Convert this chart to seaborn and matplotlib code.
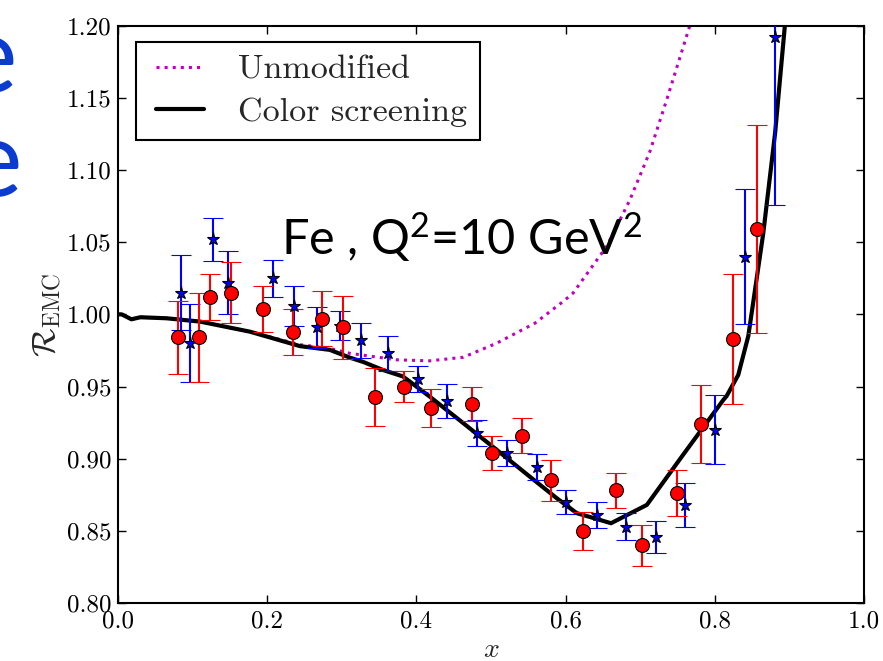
"""EMC ratio for Fe at Q^2 = 10 GeV^2: data vs. unmodified and color-screening curves."""

import matplotlib

matplotlib.use("Agg")
import matplotlib.pyplot as plt
import pandas as pd
import seaborn as sns
from matplotlib.legend_handler import HandlerLine2D
from matplotlib.lines import Line2D
from matplotlib.ticker import FormatStrFormatter, MultipleLocator

# data set 1 (red circles)
x_red = [0.080, 0.109, 0.124, 0.152, 0.195, 0.235, 0.274, 0.302, 0.345, 0.384, 0.420,
         0.474, 0.501, 0.542, 0.580, 0.624, 0.667, 0.703, 0.750, 0.781, 0.824, 0.856]
y_red = [0.984, 0.984, 1.012, 1.015, 1.004, 0.988, 0.997, 0.991, 0.943, 0.950, 0.935,
         0.938, 0.904, 0.916, 0.885, 0.850, 0.878, 0.840, 0.876, 0.924, 0.983, 1.059]
err_red = [0.025, 0.031, 0.016, 0.021, 0.016, 0.016, 0.019, 0.022, 0.020, 0.011, 0.013,
           0.012, 0.012, 0.012, 0.014, 0.013, 0.012, 0.014, 0.016, 0.027, 0.045, 0.072]

# data set 2 (blue stars)
x_blue = [0.085, 0.096, 0.127, 0.147, 0.2075, 0.236, 0.267, 0.297, 0.326, 0.3615, 0.402, 0.441,
          0.481, 0.521, 0.562, 0.601, 0.6415, 0.681, 0.721, 0.7605, 0.801, 0.841, 0.881]
y_blue = [1.015, 0.980, 1.052, 1.022, 1.025, 1.006, 0.991, 0.992, 0.982, 0.973, 0.955, 0.940,
          0.918, 0.904, 0.894, 0.870, 0.861, 0.853, 0.846, 0.868, 0.920, 1.040, 1.192]
err_blue = [0.026, 0.027, 0.015, 0.022, 0.013, 0.014, 0.014, 0.010, 0.012, 0.012, 0.009, 0.012,
            0.009, 0.009, 0.009, 0.008, 0.009, 0.0095, 0.011, 0.015, 0.024, 0.047, 0.116]

# color screening curve
x_cs = [0.0, 0.005, 0.018, 0.03, 0.065, 0.11, 0.177, 0.244, 0.284, 0.311, 0.329, 0.355,
        0.382, 0.418, 0.463, 0.508, 0.552, 0.588, 0.615, 0.661, 0.709, 0.758, 0.8115,
        0.816, 0.8315, 0.845, 0.856, 0.865, 0.881, 0.894, 0.905]
y_cs = [1.000, 1.000, 0.9966, 0.998, 0.9973, 0.995, 0.988, 0.978, 0.9754, 0.970, 0.967, 0.9615,
        0.957, 0.943, 0.9246, 0.906, 0.8876, 0.8727, 0.8623, 0.8553, 0.868, 0.903, 0.9407,
        0.9435, 0.958, 0.985, 1.024, 1.056, 1.126, 1.200, 1.26]

# unmodified curve
x_un = [0.0, 0.005, 0.018, 0.03, 0.065, 0.11, 0.177, 0.244, 0.284, 0.311, 0.3736, 0.418,
        0.463, 0.5076, 0.559, 0.597, 0.610, 0.655, 0.686, 0.713, 0.7355, 0.7645, 0.775]
y_un = [1.000, 1.000, 0.9966, 0.998, 0.9973, 0.995, 0.988, 0.979, 0.9765, 0.973, 0.9685, 0.9678,
        0.9703, 0.980, 0.9939, 1.009, 1.0147, 1.047, 1.079, 1.1127, 1.1485, 1.1965, 1.215]

sns.set_style("ticks")
plt.rcParams["font.family"] = ["cmr10", "DejaVu Sans"]
plt.rcParams["mathtext.fontset"] = "cm"
plt.rcParams["axes.formatter.use_mathtext"] = True
plt.rcParams["mathtext.rm"] = "Lato"
plt.rcParams["mathtext.it"] = "Lato:italic"
plt.rcParams["mathtext.bf"] = "Lato:bold"

fig = plt.figure(figsize=(8.83, 6.61), dpi=100)
ax = fig.add_axes([0.1336, 0.0877, 0.8448, 0.8734])

un = pd.DataFrame({"x": x_un, "y": y_un})
cs = pd.DataFrame({"x": x_cs, "y": y_cs})
sns.lineplot(data=un, x="x", y="y", ax=ax, color="m", linestyle=":", linewidth=2.2,
             estimator=None, label="Unmodified")
sns.lineplot(data=cs, x="x", y="y", ax=ax, color="k", linewidth=3,
             estimator=None, label="Color screening")

ax.errorbar(x_blue, y_blue, yerr=err_blue, fmt="*", color="b", mfc="b", mec="k",
            mew=0.8, ms=9.5, elinewidth=1.5, capsize=7, capthick=1.5, zorder=3)
ax.errorbar(x_red, y_red, yerr=err_red, fmt="o", color="r", mfc="r", mec="k",
            mew=0.8, ms=10, elinewidth=1.5, capsize=7, capthick=1.5, zorder=3)

ax.set_xlim(0, 1.0)
ax.set_ylim(0.80, 1.20)
ax.xaxis.set_major_locator(MultipleLocator(0.2))
ax.yaxis.set_major_locator(MultipleLocator(0.05))
ax.xaxis.set_major_formatter(FormatStrFormatter("%.1f"))
ax.yaxis.set_major_formatter(FormatStrFormatter("%.2f"))
ax.tick_params(direction="in", top=True, right=True, length=6, width=1,
               labelsize=18, pad=5, colors="k")
for s in ax.spines.values():
    s.set_linewidth(1.5)
    s.set_color("k")

ax.set_xlabel("$x$", fontsize=20, labelpad=3)
ax.set_ylabel(r"$\mathcal{R}_{\rm EMC}$", fontsize=24, labelpad=2)

leg = ax.legend(loc="upper left", bbox_to_anchor=(0.024, 0.971), borderaxespad=0,
                fontsize=24.5, frameon=True, fancybox=False, edgecolor="k",
                framealpha=1, handlelength=1.65, handletextpad=1.0, labelspacing=0.38,
                borderpad=0.36, handler_map={Line2D: HandlerLine2D(xpad=0.24)})
leg.get_frame().set_linewidth(1.5)

ax.text(0.218, 0.603, r"Fe , Q$^2$=10 GeV$^2$", transform=ax.transAxes, fontsize=35,
        family="Lato", math_fontfamily="custom", color="k")

# cropped slide letters on the left margin
fig.text(17 / 883, 1 - 92 / 661, "e", fontsize=77, family="Lato", color="#0b3ccf",
         ha="right", va="baseline")
fig.text(22 / 883, 1 - 196 / 661, "e", fontsize=77, family="Lato", color="#0b3ccf",
         ha="right", va="baseline")

fig.savefig("out.png", dpi=100)
